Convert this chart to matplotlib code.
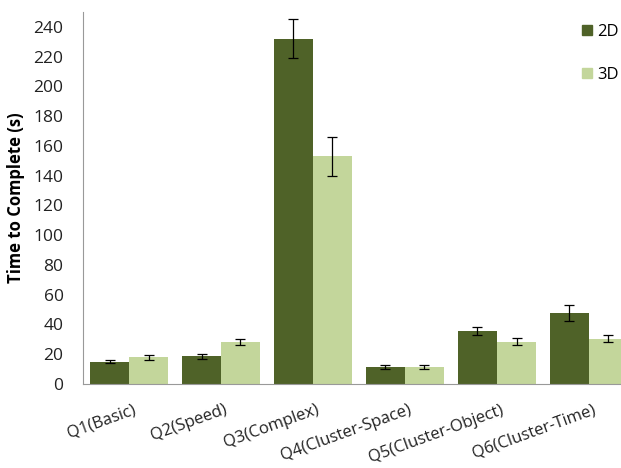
import matplotlib
matplotlib.use("Agg")
import matplotlib.pyplot as plt
import matplotlib.transforms as mtransforms
import numpy as np
from matplotlib.patches import Patch

plt.rcParams['font.family'] = ['Open Sans', 'DejaVu Sans']

categories = ["Q1(Basic)", "Q2(Speed)", "Q3(Complex)", "Q4(Cluster-Space)",
              "Q5(Cluster-Object)", "Q6(Cluster-Time)"]
vals_2d = [15, 18.5, 232, 11.6, 35.5, 47.8]
err_2d = [1.0, 1.8, 13, 1.3, 2.8, 5.5]
vals_3d = [18, 28.5, 153, 11.6, 28.5, 30.5]
err_3d = [1.8, 2.0, 13, 1.3, 2.4, 2.2]
yticks = list(range(0, 241, 20))

c2d = "#4F6228"
c3d = "#C3D69B"

fig = plt.figure(figsize=(6.21, 4.68), dpi=100)
ax = fig.add_axes([83/621, 1-384/468, 552/621, 372/468])

x = np.arange(len(categories))
w = 39/92
ax.bar(x - w/2, vals_2d, w, color=c2d, yerr=err_2d, capsize=3.5,
       error_kw=dict(ecolor='black', elinewidth=0.9, capthick=0.9))
ax.bar(x + w/2, vals_3d, w, color=c3d, yerr=err_3d, capsize=3.5,
       error_kw=dict(ecolor='black', elinewidth=0.9, capthick=0.9))

ax.set_xlim(-0.5, len(categories) - 0.5)
ax.set_ylim(0, 250)
ax.set_yticks(yticks)
ax.set_yticklabels([str(t) for t in yticks], fontsize=12.5, color='#222222')
ax.tick_params(axis='y', length=0, pad=14)
ax.tick_params(axis='x', length=0, pad=13)
ax.set_xticks(x)
ax.set_xticklabels(categories, rotation=20, ha='right', rotation_mode='anchor',
                   fontsize=12, color='#222222')
offset = mtransforms.ScaledTranslation(3/100, 0, fig.dpi_scale_trans)
for lbl in ax.get_xticklabels():
    lbl.set_transform(lbl.get_transform() + offset)
ax.set_ylabel("Time to Complete (s)", fontsize=12, fontweight='bold', labelpad=6)

for s in ['top', 'right']:
    ax.spines[s].set_visible(False)
ax.spines['left'].set_color('#999999')
ax.spines['bottom'].set_color('#999999')

handles = [Patch(color=c2d), Patch(color=c3d)]
fig.legend(handles, ["2D", "3D"], loc='upper left', bbox_to_anchor=(582/621, 1-24/468),
           frameon=False, fontsize=12, handlelength=0.6, handleheight=0.6,
           handletextpad=0.3, labelspacing=1.6, borderaxespad=0, borderpad=0)

fig.savefig("out.png", dpi=100)
